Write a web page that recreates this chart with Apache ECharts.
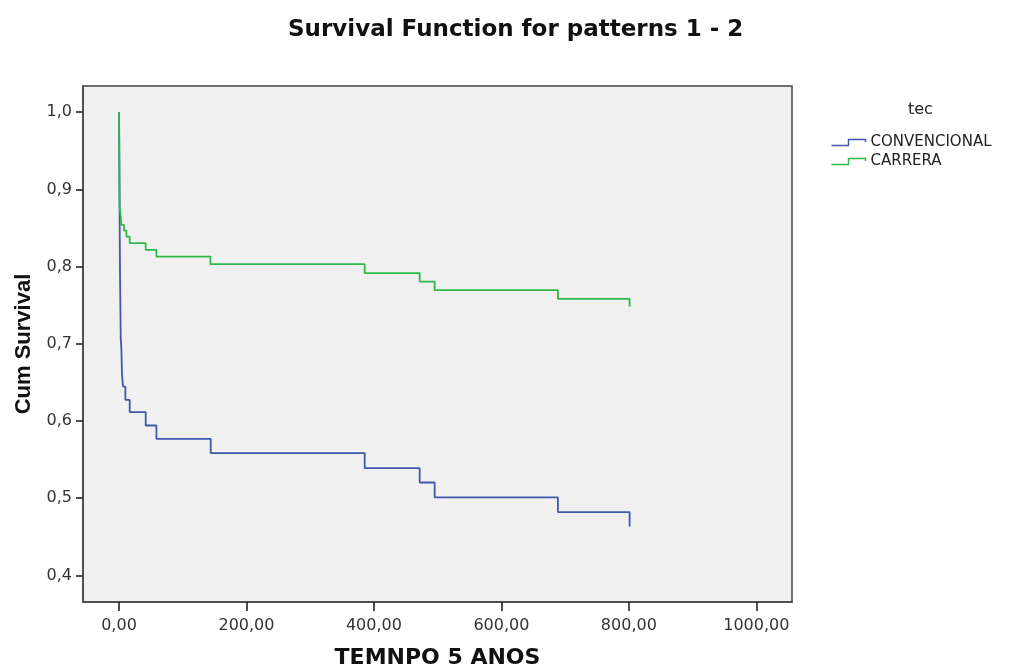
<!DOCTYPE html>
<html>
<head>
<meta charset="utf-8">
<script src="https://cdn.jsdelivr.net/npm/echarts@6/dist/echarts.min.js"></script>
<style>
  html, body { margin: 0; padding: 0; background: #fff; }
  #main { width: 1009px; height: 667px; }
</style>
</head>
<body>
<div id="main"></div>
<script>
// step times (TEMNPO 5 ANOS) and cumulative survival
var convTimes = [0, 0.5, 1.6, 2.7, 3.8, 4.7, 6.3, 10, 16.8, 41.9, 58.7, 143.9, 385.5, 471.8, 495.3, 688.7, 801.2];
var convSurv  = [1.0, 0.92, 0.7893, 0.7078, 0.6922, 0.6599, 0.6447, 0.6275, 0.6116, 0.5942, 0.577, 0.5585, 0.539, 0.5204, 0.501, 0.4821, 0.4634];
var carrTimes = [0, 0.6, 1.1, 3.8, 7.8, 11.6, 16.8, 41.9, 58.7, 143.4, 385.5, 471.8, 495.3, 688.7, 801.2];
var carrSurv  = [1.0, 0.947, 0.878, 0.854, 0.8467, 0.839, 0.8304, 0.8217, 0.813, 0.8032, 0.7915, 0.7807, 0.7695, 0.7583, 0.7483];
var seriesNames = ['CONVENCIONAL', 'CARRERA'];
var xTicks = [0, 200, 400, 600, 800, 1000];
var yTicks = [0.4, 0.5, 0.6, 0.7, 0.8, 0.9, 1.0];

function pairs(xs, ys) {
  var out = [];
  for (var i = 0; i < xs.length; i++) out.push([xs[i], ys[i]]);
  return out;
}

var colors = ['#3e58ac', '#2eb848'];
// little step glyph used by SPSS in the legend
var stepIcon = 'path://M0,6 L17,6 L17,0 L34,0 L34,2.5';
var wideFont = 'DejaVu Sans';

var chart = echarts.init(document.getElementById('main'), null, { renderer: 'canvas' });

var option = {
  animation: false,
  backgroundColor: '#ffffff',
  color: colors,
  title: [
    {
      text: 'Survival Function for patterns 1 - 2',
      left: 283,
      top: 14,
      textStyle: { fontFamily: wideFont, fontSize: 23, fontWeight: 'bold', color: '#111' }
    },
    {
      text: 'tec',
      left: 903,
      top: 97,
      textStyle: { fontFamily: wideFont, fontSize: 16, fontWeight: 'normal', color: '#222' }
    }
  ],
  legend: {
    orient: 'vertical',
    left: 829,
    top: 135,
    padding: 0,
    itemWidth: 34,
    itemHeight: 6,
    itemGap: 4,
    icon: stepIcon,
    textStyle: { fontFamily: wideFont, fontSize: 15, color: '#222', lineHeight: 14 },
    data: [
      { name: seriesNames[0], itemStyle: { color: 'none', borderColor: colors[0], borderWidth: 1.4 } },
      { name: seriesNames[1], itemStyle: { color: 'none', borderColor: colors[1], borderWidth: 1.4 } }
    ]
  },
  grid: {
    left: 83,
    top: 86,
    right: 217,
    bottom: 65,
    outerBoundsMode: 'none',
    show: true,
    backgroundColor: '#f0f0f0',
    borderColor: '#444',
    borderWidth: 1.5
  },
  xAxis: {
    type: 'value',
    min: -56.5,
    max: 1056,
    name: 'TEMNPO 5 ANOS',
    nameLocation: 'middle',
    nameGap: 45,
    nameTextStyle: { fontFamily: wideFont, fontSize: 22, fontWeight: 'bold', color: '#111' },
    axisLine: { show: true, onZero: false, lineStyle: { color: '#444', width: 1.5 } },
    axisTick: { show: true, customValues: xTicks, length: 9, lineStyle: { color: '#222', width: 1.6 } },
    axisLabel: {
      customValues: xTicks,
      margin: 16,
      fontFamily: wideFont,
      fontSize: 16,
      color: '#333',
      formatter: function (v) { return v.toFixed(2).replace('.', ','); }
    },
    splitLine: { show: false }
  },
  yAxis: {
    type: 'value',
    min: 0.3656,
    max: 1.034,
    name: 'Cum Survival',
    nameLocation: 'middle',
    nameGap: 48,
    nameTextStyle: { fontFamily: 'Liberation Sans, Arial', fontSize: 22, fontWeight: 'bold', color: '#111' },
    axisLine: { show: true, onZero: false, lineStyle: { color: '#444', width: 1.5 } },
    axisTick: { show: true, customValues: yTicks, length: 7, lineStyle: { color: '#222', width: 1.6 } },
    axisLabel: {
      customValues: yTicks,
      margin: 11,
      fontFamily: wideFont,
      fontSize: 16,
      color: '#333',
      formatter: function (v) { return v.toFixed(1).replace('.', ','); }
    },
    splitLine: { show: false }
  },
  series: [
    {
      name: seriesNames[0],
      type: 'line',
      step: 'end',
      showSymbol: false,
      lineStyle: { width: 1.8, color: colors[0] },
      data: pairs(convTimes, convSurv)
    },
    {
      name: seriesNames[1],
      type: 'line',
      step: 'end',
      showSymbol: false,
      lineStyle: { width: 1.8, color: colors[1] },
      data: pairs(carrTimes, carrSurv)
    }
  ]
};

chart.setOption(option);
</script>
</body>
</html>
